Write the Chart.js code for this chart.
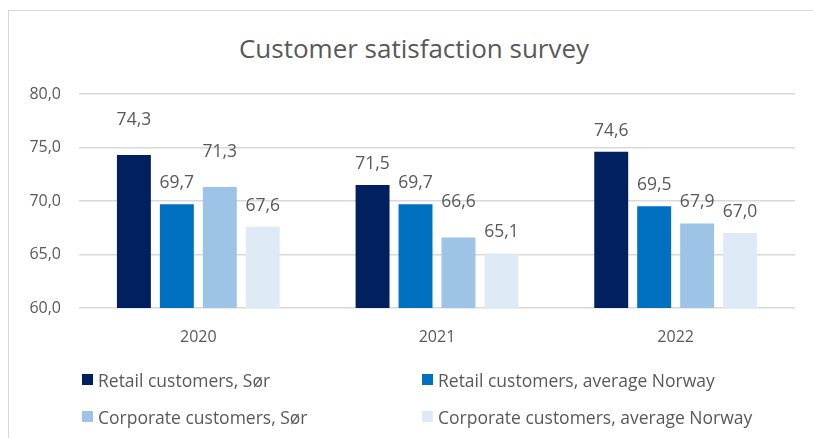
<!DOCTYPE html>
<html>
<head>
<meta charset="utf-8">
<script src="https://cdn.jsdelivr.net/npm/chart.js@4.4.1/dist/chart.umd.min.js"></script>
<style>
	html, body { margin: 0; padding: 0; background: #fff; }
	body { width: 813px; height: 438px; position: relative; overflow: hidden; font-family: "Open Sans", sans-serif; }
	#frame { position: absolute; left: 8px; top: 10px; width: 900px; height: 500px; border: 1px solid #d9d9d9; box-sizing: border-box; }
	#title { position: absolute; left: 0; width: 828px; top: 30px; text-align: center; font-size: 26px; color: #595959; }
	#chart { position: absolute; left: 0; top: 0; }
	#legend { position: absolute; left: 82px; top: 368px; width: 700px; display: grid; grid-template-columns: 340px 340px; row-gap: 14px; }
	.item { display: flex; align-items: center; font-size: 17.5px; color: #595959; height: 23px; }
	.box { width: 11px; height: 11px; margin-right: 5px; flex: none; }
</style>
</head>
<body>
<div id="frame"></div>
<div id="title">Customer satisfaction survey</div>
<canvas id="chart" width="813" height="438"></canvas>
<div id="legend"></div>
<script>
const years = ['2020', '2021', '2022'];
const seriesNames = [
	'Retail customers, Sør',
	'Retail customers, average Norway',
	'Corporate customers, Sør',
	'Corporate customers, average Norway'
];
const retailSor = [74.3, 71.5, 74.6];
const retailNorway = [69.7, 69.7, 69.5];
const corporateSor = [71.3, 66.6, 67.9];
const corporateNorway = [67.6, 65.1, 67.0];
const yTicks = [60, 65, 70, 75, 80];

const colors = ['#002060', '#0070c0', '#9dc3e6', '#deebf7'];
const fmt = (v) => v.toFixed(1).replace('.', ',');

// labels that Excel lifted higher to keep them apart: [dataset, index]
const lifted = [[0, 0], [2, 0], [2, 1]];

const barLabels = {
	id: 'barLabels',
	afterDatasetsDraw(chart) {
		const ctx = chart.ctx;
		ctx.save();
		ctx.font = '17.5px "Open Sans"';
		ctx.fillStyle = '#595959';
		ctx.textAlign = 'center';
		ctx.textBaseline = 'middle';
		chart.data.datasets.forEach((ds, i) => {
			chart.getDatasetMeta(i).data.forEach((bar, j) => {
				let off = 21;
				if (lifted.some(p => p[0] === i && p[1] === j)) off = 35;
				ctx.fillText(fmt(ds.data[j]), bar.x, bar.y - off);
			});
		});
		ctx.restore();
	}
};

const series = [retailSor, retailNorway, corporateSor, corporateNorway];

const chart = new Chart(document.getElementById('chart'), {
	type: 'bar',
	data: {
		labels: years,
		datasets: series.map((d, i) => ({
			label: seriesNames[i],
			data: d,
			backgroundColor: colors[i],
			borderWidth: 0,
			categoryPercentage: 0.72,
			barPercentage: 0.79
		}))
	},
	options: {
		responsive: false,
		animation: false,
		layout: { padding: { top: 94, left: 0, right: 18, bottom: 78 } },
		plugins: {
			legend: { display: false },
			title: { display: false },
			tooltip: { enabled: false }
		},
		scales: {
			x: {
				grid: { display: false },
				border: { display: false },
				ticks: { color: '#595959', font: { family: 'Open Sans', size: 16 }, padding: 12 },
				afterFit: (s) => { s.height = 52; }
			},
			y: {
				min: 60,
				max: 80,
				afterBuildTicks: (s) => { s.ticks = yTicks.map(v => ({ value: v })); },
				grid: { color: '#d9d9d9', lineWidth: 1.5, drawTicks: false },
				border: { display: false },
				ticks: { color: '#595959', font: { family: 'Open Sans', size: 16 }, padding: 18, callback: (v) => fmt(v) },
				afterFit: (s) => { s.width = 79; }
			}
		}
	},
	plugins: [barLabels]
});

const legend = document.getElementById('legend');
chart.data.datasets.forEach((ds) => {
	const item = document.createElement('div');
	item.className = 'item';
	const box = document.createElement('span');
	box.className = 'box';
	box.style.background = ds.backgroundColor;
	const txt = document.createElement('span');
	txt.textContent = ds.label;
	item.appendChild(box);
	item.appendChild(txt);
	legend.appendChild(item);
});
</script>
</body>
</html>
